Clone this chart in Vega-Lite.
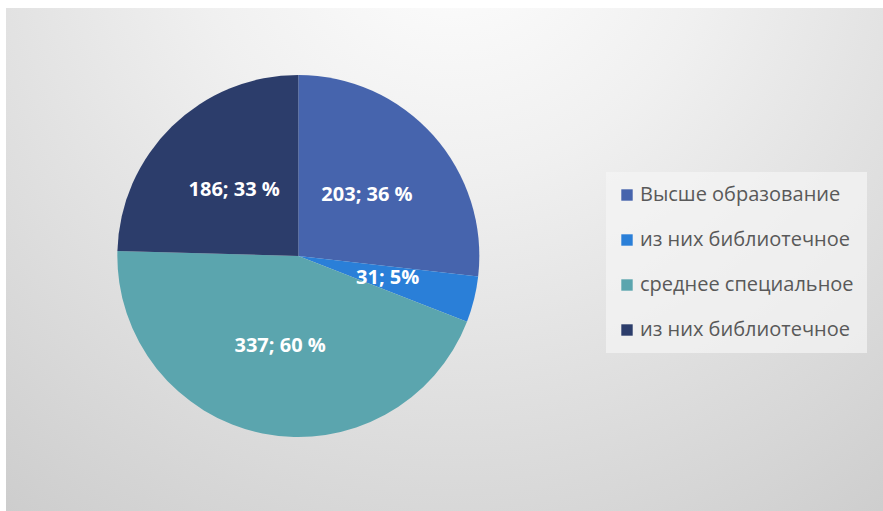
{
  "$schema": "https://vega.github.io/schema/vega-lite/v6.json",
  "width": 883,
  "height": 511,
  "autosize": {"type": "fit", "contains": "padding"},
  "padding": {"left": 6, "top": 8, "right": 0, "bottom": 0},
  "background": "#ffffff",
  "config": {"view": {"stroke": "#c6c6c6", "strokeWidth": 1.5}},
  "data": {"values": [
    {"idx": 1, "category": "Высше образование", "value": 203, "label": "203; 36 %"},
    {"idx": 2, "category": "из них библиотечное", "value": 31, "label": "31; 5%"},
    {"idx": 3, "category": "среднее специальное", "value": 337, "label": "337; 60 %"},
    {"idx": 4, "category": "из них библиотечное ", "value": 186, "label": "186; 33 %"}
  ]},
  "layer": [
    {
      "data": {"values": [{}]},
      "mark": {"type": "rect", "fill": {"gradient": "radial", "x1": 0.51, "y1": 0.1, "r1": 0, "x2": 0.51, "y2": 0.1, "r2": 1.0, "stops": [{"offset": 0, "color": "#ffffff"}, {"offset": 0.3, "color": "#f0f0f0"}, {"offset": 1, "color": "#c4c4c4"}]}},
      "encoding": {}
    },
    {
      "mark": {"type": "arc", "radius": 181, "x": {"expr": "width/3"}, "y": {"expr": "height*0.493"}},
      "encoding": {
        "theta": {"field": "value", "type": "quantitative", "stack": true},
        "order": {"field": "idx", "type": "quantitative"},
        "color": {
          "field": "category", "type": "nominal",
          "scale": {"domain": ["Высше образование", "из них библиотечное", "среднее специальное", "из них библиотечное "], "range": ["#4664ad", "#2a7fd8", "#5ba5ae", "#2c3d6b"]},
          "legend": {
            "title": null, "orient": "none", "legendX": 600, "legendY": 164,
            "symbolType": "square", "symbolSize": 130, "symbolStrokeWidth": 0,
            "labelFont": "Open Sans", "labelFontSize": 20, "labelColor": "#595959",
            "labelLimit": 400, "rowPadding": 25, "symbolOffset": -2, "labelOffset": 3,
            "fillColor": "rgba(245,245,245,0.7)", "padding": 13
          }
        }
      }
    },
    {
      "mark": {"type": "text", "radius": 92, "x": {"expr": "width/3"}, "y": {"expr": "height*0.493"}, "font": "Open Sans", "fontWeight": "bold", "fontSize": 20, "fill": "#ffffff"},
      "encoding": {
        "theta": {"field": "value", "type": "quantitative", "stack": true},
        "order": {"field": "idx", "type": "quantitative"},
        "text": {"field": "label"}
      }
    }
  ]
}
